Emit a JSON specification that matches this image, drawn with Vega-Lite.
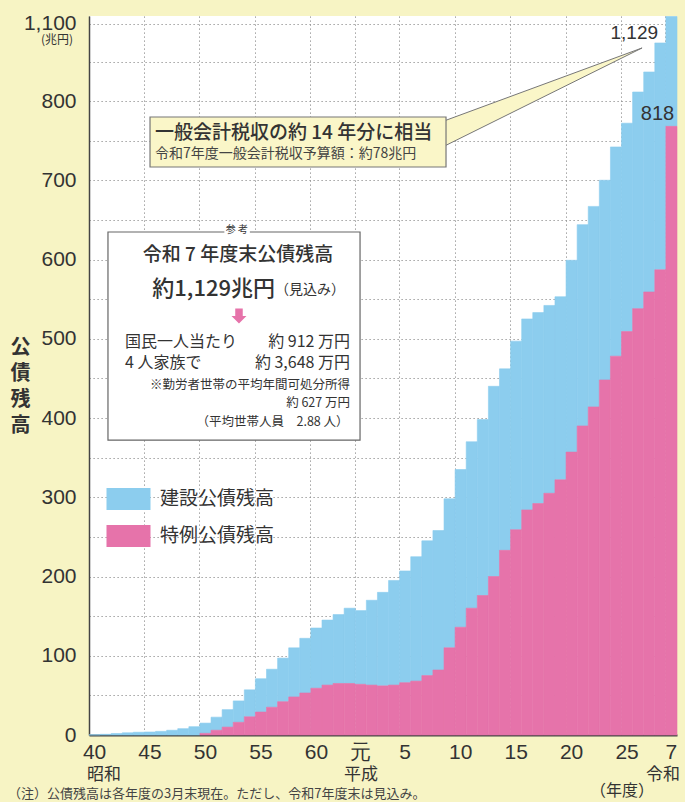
{
  "$schema": "https://vega.github.io/schema/vega-lite/v6.json",
  "width": 588,
  "height": 719,
  "autosize": "none",
  "padding": {"left": 89, "top": 16, "right": 8, "bottom": 67},
  "background": "#f7f4c4",
  "config": {
    "view": {"fill": "white", "stroke": null},
    "font": "Noto Sans CJK JP",
    "text": {"font": "Noto Sans CJK JP", "color": "#333", "baseline": "middle"}
  },
  "resolve": {"scale": {"x": "independent"}, "axis": {"y": "independent", "x": "independent"}},
  "layer": [
    {
      "data": {"values": [
        {"i":0,"建設公債残高":0.2,"特例公債残高":0},{"i":1,"建設公債残高":0.9,"特例公債残高":0},
        {"i":2,"建設公債残高":1.9,"特例公債残高":0},{"i":3,"建設公債残高":2.8,"特例公債残高":0},
        {"i":4,"建設公債残高":3.5,"特例公債残高":0},{"i":5,"建設公債残高":3.8,"特例公債残高":0},
        {"i":6,"建設公債残高":4.6,"特例公債残高":0},{"i":7,"建設公債残高":6.0,"特例公債残高":0},
        {"i":8,"建設公債残高":8.0,"特例公債残高":0},{"i":9,"建設公債残高":10.5,"特例公債残高":0},
        {"i":10,"建設公債残高":12.9,"特例公債残高":2.1},{"i":11,"建設公債残高":16.5,"特例公債残高":6},
        {"i":12,"建設公債残高":22,"特例公債残高":10},{"i":13,"建設公債残高":27,"特例公債残高":16},
        {"i":14,"建設公債残高":34,"特例公債残高":23},{"i":15,"建設公債残高":42,"特例公債残高":29},
        {"i":16,"建設公債残高":48,"特例公債残高":35},{"i":17,"建設公債残高":55,"特例公債残高":42},
        {"i":18,"建設公債残高":62,"特例公債残高":48},{"i":19,"建設公債残高":69,"特例公債残高":53},
        {"i":20,"建設公債残高":76,"特例公債残高":59},{"i":21,"建設公債残高":82,"特例公債残高":63},
        {"i":22,"建設公債残高":87,"特例公債残高":65},{"i":23,"建設公債残高":95,"特例公債残高":65},
        {"i":24,"建設公債残高":93,"特例公債残高":64},{"i":25,"建設公債残高":107,"特例公債残高":63},
        {"i":26,"建設公債残高":118,"特例公債残高":62},{"i":27,"建設公債残高":132,"特例公債残高":63},
        {"i":28,"建設公債残高":141,"特例公債残高":66},{"i":29,"建設公債残高":157,"特例公債残高":68},
        {"i":30,"建設公債残高":170,"特例公債残高":75},{"i":31,"建設公債残高":176,"特例公債残高":82},
        {"i":32,"建設公債残高":188,"特例公債残高":110},{"i":33,"建設公債残高":199,"特例公債残高":136},
        {"i":34,"建設公債残高":210,"特例公債残高":160},{"i":35,"建設公債残高":222,"特例公債残高":176},
        {"i":36,"建設公債残高":240,"特例公債残高":200},{"i":37,"建設公債残高":229,"特例公債残高":233},
        {"i":38,"建設公債残高":238,"特例公債残高":259},{"i":39,"建設公債残高":241,"特例公債残高":284},
        {"i":40,"建設公債残高":241,"特例公債残高":292},{"i":41,"建設公債残高":237,"特例公債残高":305},
        {"i":42,"建設公債残高":231,"特例公債残高":322},{"i":43,"建設公債残高":242,"特例公債残高":357},
        {"i":44,"建設公債残高":254,"特例公債残高":390},{"i":45,"建設公債残高":253,"特例公債残高":414},
        {"i":46,"建設公債残高":252,"特例公債残高":448},{"i":47,"建設公債残高":264,"特例公債残高":478},
        {"i":48,"建設公債残高":263,"特例公債残高":509},{"i":49,"建設公債残高":297,"特例公債残高":538},
        {"i":50,"建設公債残高":354,"特例公債残高":559},{"i":51,"建設公債残高":439,"特例公債残高":587},
        {"i":52,"建設公債残高":361,"特例公債残高":768}
      ]},
      "transform": [
        {"fold": ["建設公債残高", "特例公債残高"], "as": ["s", "v"]},
        {"filter": "datum.v > 0"}
      ],
      "mark": {"type": "bar", "strokeWidth": 0.6},
      "encoding": {
        "x": {
          "field": "i", "type": "ordinal",
          "scale": {"paddingInner": 0, "paddingOuter": 0},
          "axis": {
            "title": null,
            "values": [0,5,10,15,20,24,28,33,38,43,48,52],
            "bandPosition": 0,
            "labelExpr": "datum.value==0?'40':datum.value==5?'45':datum.value==10?'50':datum.value==15?'55':datum.value==20?'60':datum.value==24?'元':datum.value==28?'5':datum.value==33?'10':datum.value==38?'15':datum.value==43?'20':datum.value==48?'25':'7'",
            "labelAngle": 0,
            "labelFont": "Liberation Sans",
            "labelFontSize": 21,
            "labelColor": "#333",
            "labelPadding": 6,
            "labelOverlap": false,
            "ticks": false,
            "domainColor": "#444",
            "domainWidth": 2,
            "grid": true,
            "gridColor": "#8a8a8a",
            "gridDash": [1.2, 2.8],
            "gridWidth": 1,
            "encode": {"labels": {"update": {"dx": {"signal": "datum.value==0 ? 15 : (datum.value <= 20 ? 10 : 0)"}}}}
          }
        },
        "y": {
          "field": "v", "type": "quantitative", "stack": "zero",
          "scale": {"domain": [0, 800, 1131], "range": [719, 85, 0], "nice": false, "zero": false},
          "axis": {
            "values": [0,50,100,150,200,250,300,350,400,450,500,550,600,650,700,750,800,950,1100],
            "labelExpr": "((datum.value % 100 == 0) && datum.value <= 800) || datum.value == 1100 ? format(datum.value, ',') : ''",
            "labelFont": "Liberation Sans",
            "labelFontSize": 21,
            "labelColor": "#333",
            "labelPadding": 13,
            "labelOverlap": false,
            "ticks": false,
            "domainColor": "#444",
            "domainWidth": 1.5,
            "grid": true,
            "gridColor": "#8a8a8a",
            "gridDash": [1.2, 2.8],
            "gridWidth": 1,
            "encode": {"labels": {"update": {"dy": {"signal": "datum.value == 1100 ? -5 : 0"}}}},
            "title": ["公", "債", "残", "高"],
            "titleAngle": 0,
            "titleX": -69,
            "titleY": 321,
            "titleAlign": "center",
            "titleBaseline": "top",
            "titleFont": "Noto Sans CJK JP",
            "titleFontSize": 20,
            "titleFontWeight": "bold",
            "titleLineHeight": 26,
            "titleColor": "#333"
          }
        },
        "color": {
          "field": "s", "type": "nominal",
          "scale": {"domain": ["建設公債残高", "特例公債残高"], "range": ["#8ccdee", "#e673aa"]},
          "legend": {
            "orient": "none", "legendX": 28.5, "legendY": 472, "title": null,
            "symbolType": "M-2,-1H2V1H-2Z", "symbolSize": 484, "symbolStrokeWidth": 0, "symbolOpacity": 1,
            "labelFont": "Noto Sans CJK JP", "labelFontSize": 19, "labelColor": "#333",
            "rowPadding": 15, "labelOffset": 20.5, "padding": 0
          }
        },
        "stroke": {
          "field": "s", "type": "nominal",
          "scale": {"domain": ["建設公債残高", "特例公債残高"], "range": ["#8ccdee", "#e673aa"]},
          "legend": null
        },
        "order": {"field": "s", "type": "ordinal", "sort": "descending"}
      }
    },
    {
      "encoding": {
        "x": {"field": "x", "type": "quantitative", "scale": {"domain": [0, 53], "nice": false, "zero": false}, "axis": null},
        "y": {"field": "y", "type": "quantitative", "scale": {"domain": [0, 800, 1131], "range": [719, 85, 0], "nice": false, "zero": false}, "axis": null}
      },
      "layer": [
        {
          "data": {"values": [{"x": 31.5, "y": 772.2, "y2": 739.4}, {"x": 49.85, "y": 1006.5, "y2": 1006.5}]},
          "mark": {"type": "area", "fill": "#faf6c8", "stroke": "#777", "strokeWidth": 1, "opacity": 1},
          "encoding": {"y2": {"field": "y2"}}
        },
        {
          "data": {"values": [{"x": 5.5, "x2": 32.18, "y": 779.8, "y2": 716.7}]},
          "mark": {"type": "rect", "fill": "#faf6c8", "stroke": "#777", "strokeWidth": 1.2},
          "encoding": {"x2": {"field": "x2"}, "y2": {"field": "y2"}}
        },
        {
          "data": {"values": [{"x": 1.71, "x2": 24.43, "y": 634.7, "y2": 372.2}]},
          "mark": {"type": "rect", "fill": "white", "stroke": "#666", "strokeWidth": 1.2},
          "encoding": {"x2": {"field": "x2"}, "y2": {"field": "y2"}}
        },
        {
          "data": {"values": [{"x": 12.2, "x2": 14.5, "y": 642, "y2": 630}]},
          "mark": {"type": "rect", "fill": "white"},
          "encoding": {"x2": {"field": "x2"}, "y2": {"field": "y2"}}
        },
        {
          "data": {"values": [{"x": 13.52, "y": 528.7}]},
          "mark": {"type": "point", "shape": "M-0.5,-1L0.5,-1L0.5,0L1,0L0,1L-1,0L-0.5,0Z", "size": 225, "filled": true, "fill": "#e673aa", "opacity": 1, "strokeWidth": 0}
        },
        {
          "data": {"values": [{"x": 5.95, "y": 759.6, "t": "一般会計税収の約 14 年分に相当"}]},
          "mark": {"type": "text", "align": "left", "fontSize": 19, "fontWeight": 500},
          "encoding": {"text": {"field": "t"}}
        },
        {
          "data": {"values": [{"x": 5.95, "y": 733.1, "t": "令和7年度一般会計税収予算額：約78兆円"}]},
          "mark": {"type": "text", "align": "left", "fontSize": 14, "color": "#444"},
          "encoding": {"text": {"field": "t"}}
        },
        {
          "data": {"values": [{"x": 13.34, "y": 637, "t": "参 考"}]},
          "mark": {"type": "text", "align": "center", "fontSize": 10},
          "encoding": {"text": {"field": "t"}}
        },
        {
          "data": {"values": [{"x": 13.43, "y": 605.7, "t": "令和 7 年度末公債残高"}]},
          "mark": {"type": "text", "align": "center", "fontSize": 19, "fontWeight": 500},
          "encoding": {"text": {"field": "t"}}
        },
        {
          "data": {"values": [{"x": 16.77, "y": 562.8, "t": "約1,129兆円"}]},
          "mark": {"type": "text", "align": "right", "fontSize": 22, "fontWeight": 500},
          "encoding": {"text": {"field": "t"}}
        },
        {
          "data": {"values": [{"x": 16.77, "y": 561.5, "t": "（見込み）"}]},
          "mark": {"type": "text", "align": "left", "fontSize": 14},
          "encoding": {"text": {"field": "t"}}
        },
        {
          "data": {"values": [{"x": 3.245, "y": 496.5, "t": "国民一人当たり"}, {"x": 3.245, "y": 468.8, "t": "4 人家族で"}]},
          "mark": {"type": "text", "align": "left", "fontSize": 16},
          "encoding": {"text": {"field": "t"}}
        },
        {
          "data": {"values": [{"x": 23.53, "y": 496.5, "t": "約 912 万円"}, {"x": 23.53, "y": 468.8, "t": "約 3,648 万円"}]},
          "mark": {"type": "text", "align": "right", "fontSize": 16},
          "encoding": {"text": {"field": "t"}}
        },
        {
          "data": {"values": [
            {"x": 23.53, "y": 441.6, "t": "※勤労者世帯の平均年間可処分所得"},
            {"x": 23.53, "y": 418.9, "t": "約 627 万円"},
            {"x": 23.4, "y": 395, "t": "（平均世帯人員　2.88 人）"}
          ]},
          "mark": {"type": "text", "align": "right", "fontSize": 12.5},
          "encoding": {"text": {"field": "t"}}
        },
        {
          "data": {"values": [{"x": 51.29, "y": 1065, "t": "1,129"}]},
          "mark": {"type": "text", "align": "right", "fontSize": 19, "font": "Liberation Sans"},
          "encoding": {"text": {"field": "t"}}
        },
        {
          "data": {"values": [{"x": 51.24, "y": 783, "t": "818"}]},
          "mark": {"type": "text", "align": "center", "fontSize": 20, "font": "Liberation Sans"},
          "encoding": {"text": {"field": "t"}}
        },
        {
          "data": {"values": [{"x": -1.44, "y": 1036, "t": "(兆円)"}]},
          "mark": {"type": "text", "align": "right", "fontSize": 12},
          "encoding": {"text": {"field": "t"}}
        },
        {
          "data": {"values": [{"x": 1.35, "y": -51, "t": "昭和"}, {"x": 24.52, "y": -51, "t": "平成"}, {"x": 51.74, "y": -51, "t": "令和"}]},
          "mark": {"type": "text", "align": "center", "fontSize": 17},
          "encoding": {"text": {"field": "t"}}
        },
        {
          "data": {"values": [{"x": 48.04, "y": -70.5, "t": "（年度）"}]},
          "mark": {"type": "text", "align": "center", "fontSize": 16},
          "encoding": {"text": {"field": "t"}}
        },
        {
          "data": {"values": [{"x": -7.3, "y": -75, "t": "（注）公債残高は各年度の3月末現在。ただし、令和7年度末は見込み。"}]},
          "mark": {"type": "text", "align": "left", "fontSize": 13, "color": "#444"},
          "encoding": {"text": {"field": "t"}}
        }
      ]
    }
  ]
}
